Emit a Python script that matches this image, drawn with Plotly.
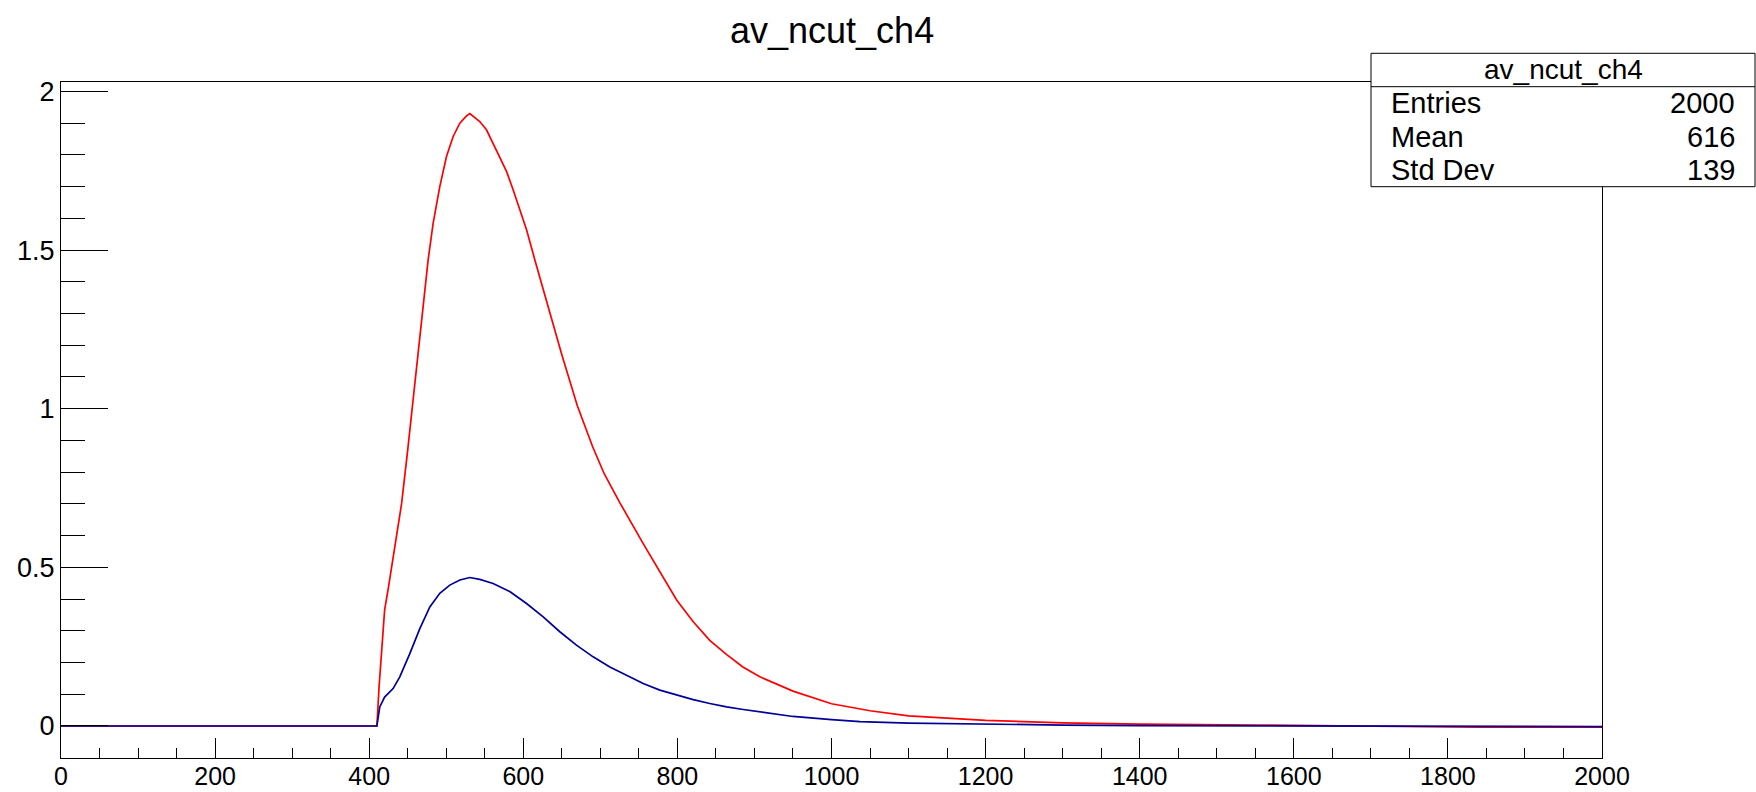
import plotly.graph_objects as go

# ---- data ----
red_x = [0, 405, 410, 412.8, 416, 418, 420, 424.5, 429, 435.4, 442, 450, 460, 470, 476.5, 483,
         491.6, 500.3, 509, 517.6, 526.3, 530.6, 543.5, 552.2, 560.8, 569.5, 578.2, 586.8,
         595.5, 604.2, 615, 630, 650, 670, 690, 705, 725, 755.6, 777, 799, 820, 842, 864, 885,
         907, 950, 1000, 1050, 1100, 1200, 1300, 1400, 1550, 1840, 2000]
red_y = [0, 0, 0, 0.123, 0.24, 0.312, 0.365, 0.43, 0.50, 0.60, 0.70, 0.87, 1.10, 1.33, 1.469, 1.585,
         1.700, 1.795, 1.858, 1.900, 1.923, 1.930, 1.905, 1.879, 1.837, 1.795, 1.748, 1.69,
         1.63, 1.564, 1.469, 1.338, 1.17, 1.01, 0.88, 0.795, 0.705, 0.575, 0.485, 0.397, 0.33, 0.270,
         0.225, 0.186, 0.155, 0.11, 0.07, 0.048, 0.032, 0.018, 0.010, 0.006, 0.003, -0.004, -0.004]

blue_x = [0, 405, 410, 413.7, 420, 431, 439.7, 452.7, 465.7, 478.7, 491.6, 504.6, 517.6, 530.6,
          543.5, 560.8, 582.9, 604.2, 625.8, 647.4, 669, 690.6, 712.3, 734, 755.6, 777.2, 799,
          820.5, 842, 863.8, 885.4, 907, 950, 1000, 1037, 1100, 1200, 1300, 1400, 1550, 1840, 2000]
blue_y = [0, 0, 0, 0.060, 0.091, 0.118, 0.155, 0.228, 0.307, 0.375, 0.418, 0.444, 0.460, 0.468,
          0.462, 0.449, 0.423, 0.386, 0.344, 0.297, 0.255, 0.218, 0.186, 0.160, 0.134, 0.113, 0.097,
          0.083, 0.071, 0.060, 0.052, 0.044, 0.030, 0.020, 0.014, 0.009, 0.005, 0.003, 0.001, 0.0, -0.002, -0.002]

title_text = "av_ncut_ch4"
stats_labels = ["Entries", "Mean", "Std Dev"]
stats_values = ["2000", "616", "139"]

# ---- geometry helpers (pixel -> paper) ----
W, H = 1756, 792
ML, MR, MT, MB = 61, 154, 82, 34
PW, PH = W - ML - MR, H - MT - MB


def px(x):
    return (x - ML) / PW


def py(y):
    return (H - MB - y) / PH


FONT = "Liberation Sans, Arial, Helvetica, sans-serif"

fig = go.Figure()
fig.add_trace(go.Scatter(x=red_x, y=red_y, mode="lines",
                         line=dict(color="#ff0000", width=1.7), showlegend=False))
fig.add_trace(go.Scatter(x=blue_x, y=blue_y, mode="lines",
                         line=dict(color="#000099", width=1.7), showlegend=False))

fig.update_layout(
    width=W, height=H,
    margin=dict(l=ML, r=MR, t=MT, b=MB, pad=0),
    paper_bgcolor="white", plot_bgcolor="white",
    font=dict(family=FONT, color="black", size=26),
    showlegend=False,
)
fig.update_xaxes(
    range=[0, 2000], showgrid=False, zeroline=False, automargin=False,
    showline=True, linecolor="black", linewidth=1, mirror=True,
    ticks="inside", ticklen=20, tickcolor="black", tickwidth=1,
    tick0=0, dtick=200, ticklabelstandoff=-4,
    minor=dict(ticks="inside", ticklen=10, dtick=50, tickcolor="black", showgrid=False),
    tickfont=dict(size=25, family=FONT),
)
fig.update_yaxes(
    range=[-0.1009, 2.0297], showgrid=False, zeroline=False, automargin=False,
    showline=True, linecolor="black", linewidth=1, mirror=True,
    ticks="inside", ticklen=47, tickcolor="black", tickwidth=1,
    tick0=0, dtick=0.5,
    minor=dict(ticks="inside", ticklen=24, dtick=0.1, tickcolor="black", showgrid=False),
    tickfont=dict(size=27, family=FONT),
)

# title
fig.add_annotation(text=title_text, xref="paper", yref="paper", x=0.5, y=py(31),
                   xanchor="center", yanchor="middle", showarrow=False,
                   font=dict(size=36, family=FONT, color="black"))

# stats box
bx0, bx1, by0, by1, bsep = 1371, 1755, 53.3, 186.7, 86.7
fig.add_shape(type="rect", xref="paper", yref="paper",
              x0=px(bx0), x1=px(bx1), y0=py(by1), y1=py(by0),
              line=dict(color="black", width=1), fillcolor="white", layer="above")
fig.add_shape(type="line", xref="paper", yref="paper",
              x0=px(bx0), x1=px(bx1), y0=py(bsep), y1=py(bsep),
              line=dict(color="black", width=1), layer="above")
fig.add_annotation(text=title_text, xref="paper", yref="paper", x=px((bx0 + bx1) / 2), y=py(70),
                   xanchor="center", yanchor="middle", showarrow=False,
                   font=dict(size=28, family=FONT, color="black"))
row_y = [103.4, 136.8, 170.2]
for lab, val, ry in zip(stats_labels, stats_values, row_y):
    fig.add_annotation(text=lab, xref="paper", yref="paper", x=px(1389), y=py(ry),
                       xanchor="left", yanchor="middle", showarrow=False,
                       font=dict(size=29, family=FONT, color="black"))
    fig.add_annotation(text=val, xref="paper", yref="paper", x=px(1737), y=py(ry),
                       xanchor="right", yanchor="middle", showarrow=False,
                       font=dict(size=29, family=FONT, color="black"))

fig.write_html("out.html")
